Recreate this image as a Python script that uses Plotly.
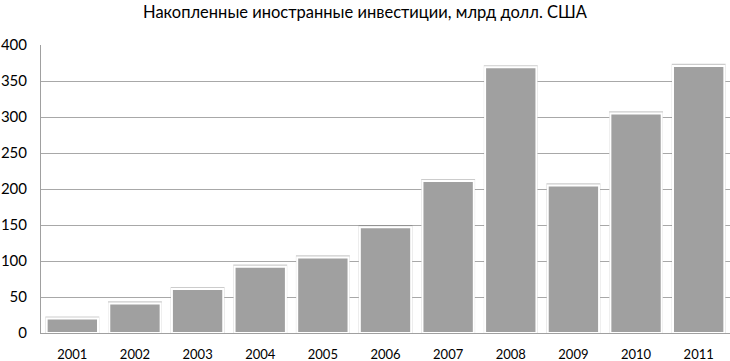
import plotly.graph_objects as go

years = ["2001", "2002", "2003", "2004", "2005", "2006", "2007", "2008", "2009", "2010", "2011"]
values = [20, 41, 61, 92, 105, 147, 211, 369, 205, 305, 371]
y_ticks = [0, 50, 100, 150, 200, 250, 300, 350, 400]

font_family = "Lato, 'Open Sans', sans-serif"

fig = go.Figure()
# soft shadow behind bars
fig.add_trace(go.Bar(
    x=years, y=[v + 3 for v in values], width=0.86,
    marker=dict(color="rgba(110,110,110,0.35)", line=dict(width=0)),
    hoverinfo="skip", showlegend=False,
))
fig.add_trace(go.Bar(
    x=years, y=values, width=0.82,
    marker=dict(color="#a0a0a0", line=dict(color="white", width=2)),
    showlegend=False,
))

fig.update_layout(
    width=730, height=361,
    margin=dict(l=41, r=0, t=45, b=28),
    paper_bgcolor="white", plot_bgcolor="white",
    barmode="overlay",
    title=dict(text="Накопленные иностранные инвестиции, млрд долл. США",
               x=0.5, xanchor="center", y=0.967, yanchor="middle",
               font=dict(family=font_family, size=16.5, color="black")),
    font=dict(family=font_family, color="black"),
)
fig.update_xaxes(
    showline=True, linecolor="#a0a0a0", linewidth=1,
    tickfont=dict(size=13), ticks="", showgrid=False,
    ticklabelstandoff=9,
)
fig.update_yaxes(
    range=[0, 400], tickvals=y_ticks, showgrid=True, gridcolor="#a8a8a8", gridwidth=1,
    showline=True, linecolor="#a0a0a0", linewidth=1, zeroline=False,
    tickfont=dict(size=15), ticks="", ticklen=0,
    ticklabelstandoff=10,
)
fig.write_html(
    "out.html",
    config={"displayModeBar": False},
    post_script="document.body.style.margin='0';document.body.style.overflow='hidden';",
)
